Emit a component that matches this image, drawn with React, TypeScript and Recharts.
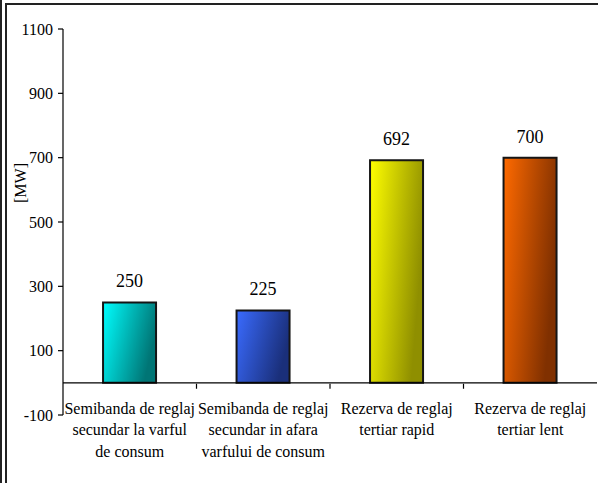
import React from 'react';
import { BarChart, Bar, XAxis, YAxis, Cell, LabelList, ReferenceLine } from 'recharts';

const categoryLines: string[][] = [
  ['Semibanda de reglaj', 'secundar la varful', 'de consum'],
  ['Semibanda de reglaj', 'secundar in afara', 'varfului de consum'],
  ['Rezerva de reglaj', 'tertiar rapid'],
  ['Rezerva de reglaj', 'tertiar lent'],
];
const categories: string[] = categoryLines.map((l) => l.join(' '));
const values: number[] = [250, 225, 692, 700];
const yTicks: number[] = [-100, 100, 300, 500, 700, 900, 1100];
const yDomain: [number, number] = [-100, 1100];

const gradStart = ['#00FFFF', '#3A6BFF', '#FFFF00', '#FF6A00'];
const gradEnd = ['#007575', '#1A2F7A', '#8F8F00', '#803000'];

const W = 598;
const H = 483;
const M = { top: 29, right: 1, bottom: 67, left: 0 };
const Y_AXIS_W = 63;
const PLOT_W = W - M.left - M.right - Y_AXIS_W;
const PLOT_H = H - M.top - M.bottom;
const ZERO_Y = M.top + (PLOT_H * (yDomain[1] - 0)) / (yDomain[1] - yDomain[0]);
const HALF_BAND = PLOT_W / categories.length / 2;
const FONT = 'Liberation Serif';

const data = categories.map((c, i) => ({ name: c, value: values[i], idx: i }));

const XTick = (props: any) => {
  const { x, payload, index } = props;
  const lines = categoryLines[index] || [String(payload.value)];
  return (
    <g>
      {index < categories.length - 1 && (
        <line x1={x + HALF_BAND} x2={x + HALF_BAND} y1={ZERO_Y} y2={ZERO_Y + 5} stroke="#000" strokeWidth={1.2} />
      )}
      <text x={x} y={ZERO_Y + 30} textAnchor="middle" fontFamily={FONT} fontSize={16} fill="#000">
        {lines.map((l, i) => (
          <tspan key={i} x={x} dy={i === 0 ? 0 : 21.5}>
            {l}
          </tspan>
        ))}
      </text>
    </g>
  );
};

export default function App() {
  return (
    <div style={{ position: 'absolute', left: 0, top: 0, width: W, height: H, background: '#fff', fontFamily: FONT }}>
      <div style={{ position: 'absolute', left: 0, top: 0, width: 2, height: H, background: '#222' }} />
      <div style={{ position: 'absolute', left: 5, top: 3, width: 2, height: H - 3, background: '#222' }} />
      <div style={{ position: 'absolute', left: 5, top: 3, width: W - 5, height: 2, background: '#222' }} />
      <div style={{ position: 'absolute', left: 0, top: 0 }}>
        <BarChart width={W} height={H} data={data} margin={M} barCategoryGap="30%">
          <defs>
            {gradStart.map((c, i) => (
              <linearGradient key={i} id={`g${i}`} x1="0" y1="0" x2="1" y2="0.35">
                <stop offset="0%" stopColor={c} />
                <stop offset="100%" stopColor={gradEnd[i]} />
              </linearGradient>
            ))}
          </defs>
          <XAxis dataKey="name" axisLine={false} tickLine={false} tick={<XTick />} interval={0} height={1} />
          <YAxis
            domain={yDomain}
            ticks={yTicks}
            width={Y_AXIS_W}
            interval={0}
            tickSize={5}
            tickMargin={5}
            axisLine={{ stroke: '#000', strokeWidth: 1.2 }}
            tickLine={{ stroke: '#000', strokeWidth: 1.2 }}
            tick={{ fill: '#000', fontSize: 16, fontFamily: FONT }}
            label={{
              value: '[MW]',
              position: 'insideLeft',
              content: () => (
                <text
                  x={26}
                  y={183}
                  transform="rotate(-90 26 183)"
                  textAnchor="middle"
                  fontFamily={FONT}
                  fontSize={16}
                  fill="#000"
                >
                  [MW]
                </text>
              ),
            }}
          />
          <ReferenceLine y={0} stroke="#000" strokeWidth={1.2} ifOverflow="extendDomain" />
          <Bar dataKey="value" isAnimationActive={false} stroke="#151515" strokeWidth={2}>
            {data.map((d, i) => (
              <Cell key={i} fill={`url(#g${i})`} />
            ))}
            <LabelList dataKey="value" position="top" offset={15} fill="#000" fontSize={18} fontFamily={FONT} />
          </Bar>
        </BarChart>
      </div>
    </div>
  );
}
